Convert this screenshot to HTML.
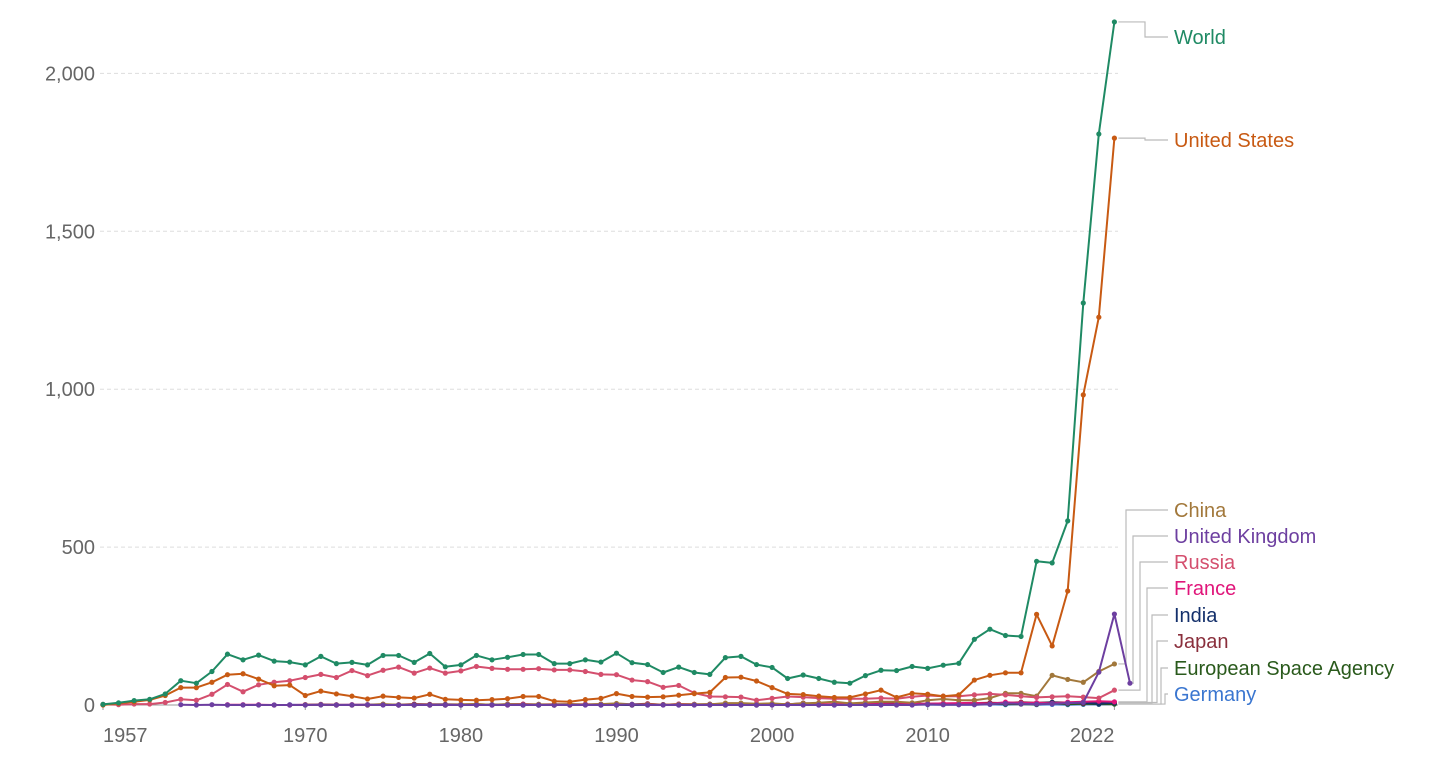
<!DOCTYPE html>
<html><head><meta charset="utf-8">
<style>
html,body{margin:0;padding:0;background:#fff;}
svg{display:block;font-family:"Liberation Sans",sans-serif;}
</style></head>
<body>
<svg id="chart" width="1456" height="769" viewBox="0 0 1456 769" xmlns="http://www.w3.org/2000/svg">
<g id="grid"></g>
<g id="yaxis"></g>
<g id="xaxis"></g>
<g id="connectors"></g>
<g id="series"></g>
<g id="labels"></g>
</svg>
<script>
const yTicks = [0, 500, 1000, 1500, 2000];
const yTickLabels = ["0", "500", "1,000", "1,500", "2,000"];
const xTicks = [1957, 1970, 1980, 1990, 2000, 2010, 2022];
const xTickLabels = ["1957", "1970", "1980", "1990", "2000", "2010", "2022"];

const worldStart = 1957;
const worldValues = [2,7,14,18,35,77,69,106,161,143,158,139,136,127,154,131,135,127,157,157,135,163,121,127,
157,143,151,160,160,131,131,143,136,164,134,128,103,120,103,97,150,154,128,119,
84,95,84,72,69,93,110,109,122,116,126,132,208,240,220,217,455,450,583,1273,1808,2163];
const usStart = 1957;
const usValues = [0,5,10,16,30,55,55,72,96,99,82,61,63,30,44,35,28,19,28,24,22,34,18,16,
15,17,20,27,27,12,10,17,21,36,27,25,26,31,36,40,87,88,76,55,
35,33,28,24,24,35,47,24,37,34,28,32,79,94,102,102,287,187,361,982,1228,1795];
const russiaStart = 1957;
const russiaValues = [2,1,3,3,8,18,15,34,65,42,64,72,77,87,97,87,109,93,110,120,101,117,101,108,
122,116,113,113,115,111,111,106,97,96,79,74,56,62,38,27,26,25,15,21,
27,25,22,20,20,20,22,20,26,30,28,28,32,35,32,28,24,26,28,25,22,47];
const chinaStart = 1970;
const chinaValues = [1,1,0,0,1,3,1,0,0,0,2,3,1,2,1,2,0,2,1,3,5,2,2,1,2,2,2,6,6,4,5,2,5,7,10,5,8,10,10,7,15,19,15,15,22,37,37,28,94,81,72,106,130];
const ukStart = 1962;
const ukValues = [1,0,1,0,0,0,0,0,0,1,0,0,1,0,0,0,0,0,0,0,0,0,0,0,0,0,0,0,0,2,0,0,0,0,0,0,0,0,0,0,0,0,0,0,0,0,0,0,2,1,1,1,3,5,4,3,4,6,8,104,288,69];
const franceStart = 1965;
const franceValues = [1,1,1,0,0,1,1,0,1,1,2,0,0,0,0,1,1,0,0,2,1,0,0,2,1,3,1,3,1,3,2,1,2,2,1,2,3,2,3,2,3,3,3,2,3,4,5,6,7,4,9,6,7,5,9,10,12,10];
const indiaStart = 1975;
const indiaValues = [1,0,0,0,1,1,1,1,1,0,0,0,1,2,0,1,0,2,1,1,1,1,1,0,3,1,2,1,1,1,1,2,4,2,1,3,4,3,3,4,5,4,6,8,6,7,4,7];
const japanStart = 1970;
const japanValues = [1,2,1,0,0,2,1,3,2,2,2,3,1,3,3,2,2,3,2,3,3,2,4,1,3,2,3,2,2,1,2,2,6,3,1,4,6,5,5,5,4,5,3,6,7,6,9,7,9,8,5,10,8];
const esaStart = 1975;
const esaValues = [1,0,0,1,0,0,0,1,1,1,0,0,2,1,1,0,1,1,1,1,1,1,1,2,0,1,2,2,1,3,2,1,2,2,2,3,2,2,3,4,3,3,2,5,3,4,3,3];
const germanyStart = 1969;
const germanyValues = [1,0,0,0,1,0,1,0,0,0,0,0,0,0,1,0,0,0,0,1,0,0,0,0,1,0,1,0,0,0,0,2,1,1,1,0,0,1,2,1,2,1,1,1,1,2,1,3,1,2,1,2,2,3];

const X0 = 103, PX_PER_YEAR = 15.56, Y0 = 705, PX_PER_UNIT = 0.3158;
function xs(year){ return X0 + (year - 1957) * PX_PER_YEAR; }
function ys(v){ return Y0 - v * PX_PER_UNIT; }
const NS = "http://www.w3.org/2000/svg";
function mk(tag, parent){ const e = document.createElementNS(NS, tag); parent.appendChild(e); return e; }

const grid = document.getElementById('grid');
const yaxis = document.getElementById('yaxis');
yTicks.forEach((t, i) => {
  const l = mk('line', grid);
  
  
  l.setAttribute('x1', 100); l.setAttribute('x2', 1118);
  l.setAttribute('y1', ys(t)); l.setAttribute('y2', ys(t));
  l.setAttribute('stroke', t === 0 ? '#999' : '#ddd');
  l.setAttribute('stroke-width', 1);
  if (t !== 0) l.setAttribute('stroke-dasharray', '4,3');
  const tx = mk('text', yaxis);
  
  
  tx.setAttribute('x', 95); tx.setAttribute('y', ys(t) + 7);
  tx.setAttribute('text-anchor', 'end');
  tx.setAttribute('font-size', 20); tx.setAttribute('fill', '#666');
  tx.textContent = yTickLabels[i];
});
const xaxis = document.getElementById('xaxis');
xTicks.forEach((t, i) => {
  const l = mk('line', xaxis);
  
  
  l.setAttribute('x1', xs(t)); l.setAttribute('x2', xs(t));
  l.setAttribute('y1', 705); l.setAttribute('y2', 710);
  l.setAttribute('stroke', '#999');
  const tx = mk('text', xaxis);
  
  
  tx.setAttribute('x', i === 0 ? xs(t) : xs(t)); tx.setAttribute('y', 742);
  tx.setAttribute('text-anchor', i === 0 ? 'start' : (i === xTicks.length - 1 ? 'end' : 'middle'));
  tx.setAttribute('font-size', 20); tx.setAttribute('fill', '#666');
  tx.textContent = xTickLabels[i];
});

const seriesList = [
  {name:'germany', label:'Germany', color:'#3a76d0', start:germanyStart, values:germanyValues, ly:694, vx:1165},
  {name:'esa', label:'European Space Agency', color:'#2a5a1c', start:esaStart, values:esaValues, ly:668, vx:1161},
  {name:'japan', label:'Japan', color:'#8a2f3c', start:japanStart, values:japanValues, ly:641, vx:1157},
  {name:'india', label:'India', color:'#14306b', start:indiaStart, values:indiaValues, ly:615, vx:1152},
  {name:'france', label:'France', color:'#e0157a', start:franceStart, values:franceValues, ly:588, vx:1147},
  {name:'china', label:'China', color:'#a2783b', start:chinaStart, values:chinaValues, ly:510, vx:1126},
  {name:'russia', label:'Russia', color:'#d44f6e', start:russiaStart, values:russiaValues, ly:562, vx:1140},
  {name:'united-kingdom', label:'United Kingdom', color:'#6d3fa0', start:ukStart, values:ukValues, ly:536, vx:1133},
  {name:'united-states', label:'United States', color:'#c85a13', start:usStart, values:usValues, ly:140, vx:1145},
  {name:'world', label:'World', color:'#1f8a64', start:worldStart, values:worldValues, ly:37, vx:1145}
];
const sg = document.getElementById('series');
const cg = document.getElementById('connectors');
const lg = document.getElementById('labels');
seriesList.forEach(s => {
  const g = mk('g', sg);
  
  
  const pts = s.values.map((v, i) => [xs(s.start + i), ys(v)]);
  const p = mk('polyline', g);
  
  
  p.setAttribute('points', pts.map(q => q[0].toFixed(1) + ',' + q[1].toFixed(1)).join(' '));
  p.setAttribute('fill', 'none'); p.setAttribute('stroke', s.color);
  p.setAttribute('stroke-width', 2); p.setAttribute('stroke-linejoin', 'round');
  pts.forEach(q => {
    const c = mk('circle', g);
    
    
    c.setAttribute('cx', q[0]); c.setAttribute('cy', q[1]); c.setAttribute('r', 2.6);
    c.setAttribute('fill', s.color);
  });
  const last = pts[pts.length - 1];
  const con = mk('polyline', cg);
  
  
  con.setAttribute('points', `${last[0] + 4},${last[1]} ${s.vx},${last[1]} ${s.vx},${s.ly} 1168,${s.ly}`);
  con.setAttribute('fill', 'none'); con.setAttribute('stroke', '#bbb'); con.setAttribute('stroke-width', 1.2);
  const t = mk('text', lg);
  
  
  t.setAttribute('x', 1174); t.setAttribute('y', s.ly + 7);
  t.setAttribute('font-size', 20); t.setAttribute('fill', s.color);
  t.textContent = s.label;
});
</script>
</body></html>
